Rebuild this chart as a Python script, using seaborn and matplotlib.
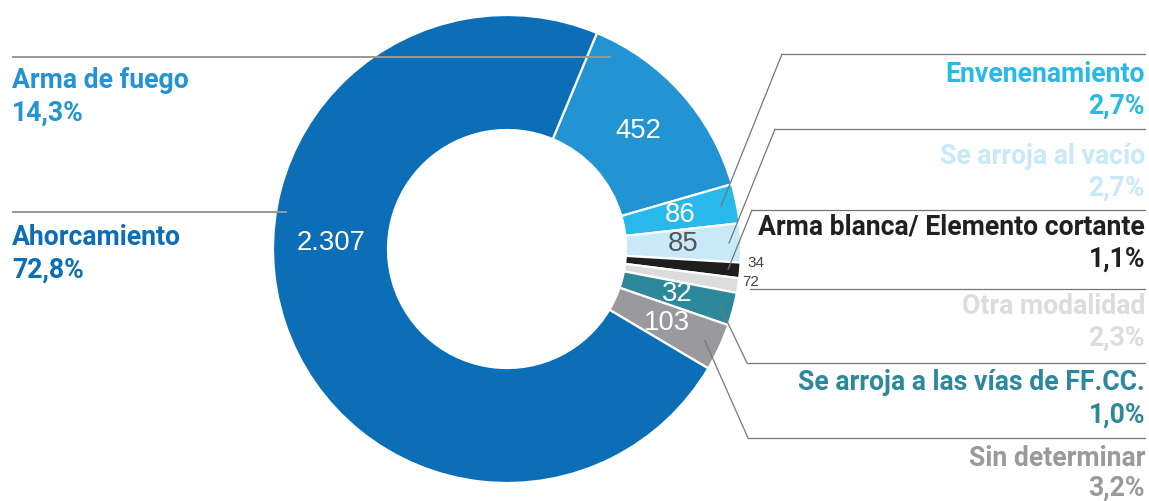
import numpy as np
import matplotlib
matplotlib.use("Agg")
import matplotlib.pyplot as plt
import seaborn as sns

# data
categories = ["Arma de fuego", "Envenenamiento", "Se arroja al vacío",
              "Arma blanca/ Elemento cortante", "Otra modalidad",
              "Se arroja a las vías de FF.CC.", "Sin determinar", "Ahorcamiento"]
# numbers printed on the chart
values = [452, 86, 85, 34, 72, 32, 103, 2307]
# arc sizes as drawn in the ring (the grey and teal arcs are swapped in the original)
ring_values = [452, 86, 85, 34, 32, 72, 103, 2307]
colors = ["#2293d3", "#28b8e9", "#c8e9f8", "#1e1e1e", "#dcdcdc",
          "#2b899b", "#9a9a9e", "#0b6eb7"]
text_colors = ["#2293d3", "#28b8e9", "#c8e9f8", "#231f20", "#dcdcdc",
               "#2b899b", "#9a9a9e", "#0b6eb7"]
value_colors = ["white", "white", "#555555", "#444444", "#444444",
                "white", "white", "white"]

total = sum(values)

sns.set_style("white")
plt.rcParams["font.family"] = ["Roboto", "DejaVu Sans"]

W, H = 1149, 501
fig = plt.figure(figsize=(W / 100, H / 100), dpi=100)
ax = fig.add_axes([0, 0, 1, 1])

def py(y):
    # top-down pixel -> axes y
    return H - y

cx, cy = 507, py(249)
R, hole = 234, 119

wedges, _ = ax.pie(ring_values, radius=R, center=(cx, cy), startangle=67.4,
                   counterclock=False, colors=colors,
                   wedgeprops=dict(width=R - hole, edgecolor="white", linewidth=1.6))
ax.set_xlim(0, W)
ax.set_ylim(0, H)
ax.set_aspect("equal")
ax.axis("off")

def point(theta, r):
    t = np.deg2rad(theta)
    return cx + r * np.cos(t), cy + r * np.sin(t)

mids = [(w.theta1 + w.theta2) / 2 for w in wedges]

# value labels: thin slices get their number outside the ring
outside = {3: (2.0, 241), 4: (1.0, 238)}
for i, w in enumerate(wedges):
    txt = f"{values[i]:,}".replace(",", ".")
    if i in outside:
        off, r = outside[i]
        x, y = point(mids[i] + off, r)
        ax.text(x, y, txt, ha="left", va="center", fontsize=11,
                color=value_colors[i], family=["Liberation Sans"])
    else:
        ang = 178.0 if i == len(values) - 1 else mids[i]
        x, y = point(ang, (R + hole) / 2)
        ax.text(x, y, txt, ha="center", va="center", fontsize=19.8,
                color=value_colors[i], family=["Liberation Sans"])

def pct(v):
    return f"{v / total * 100:.1f}".replace(".", ",") + "%"

fs = 19.2
line_col = "#777777"

# left labels: Arma de fuego and Ahorcamiento
left = [(0, 61.6, 218, 80), (7, 170.5, 223, 237)]
for i, ang, r, ty in left:
    ax_, ay_ = point(ang, r)
    ax.plot([12, ax_], [ay_, ay_], color="#999999", lw=1.4, solid_capstyle="butt")
    ax.text(12, py(ty), categories[i], ha="left", va="center", fontsize=fs,
            fontweight="bold", color=text_colors[i])
    ax.text(12, py(ty + 33), pct(values[i]), ha="left", va="center", fontsize=fs,
            fontweight="bold", color=text_colors[i])

# right labels: (index, elbow x, line y, name y, anchor radius)
right = [(1, 782, 54, 74, 218),
         (2, 775, 129, 156, 222),
         (3, 752, 210, 227, 222),
         (4, 750, 289, 306, None),
         (5, 747, 363, 383, 220),
         (6, 748, 438, 458, 218)]
for i, ex, ly, ty, r in right:
    ax.plot([ex, 1145], [py(ly), py(ly)], color=line_col, lw=0.9)
    if r is not None:
        axp, ayp = point(mids[i], r)
        ax.plot([ex, axp], [py(ly), ayp], color=line_col, lw=0.9)
    ax.text(1145, py(ty), categories[i], ha="right", va="center", fontsize=fs,
            fontweight="bold", color=text_colors[i])
    ax.text(1145, py(min(ty + 32, 488)), pct(values[i]), ha="right", va="center",
            fontsize=fs, fontweight="bold", color=text_colors[i])

fig.savefig("out.png", dpi=100)
